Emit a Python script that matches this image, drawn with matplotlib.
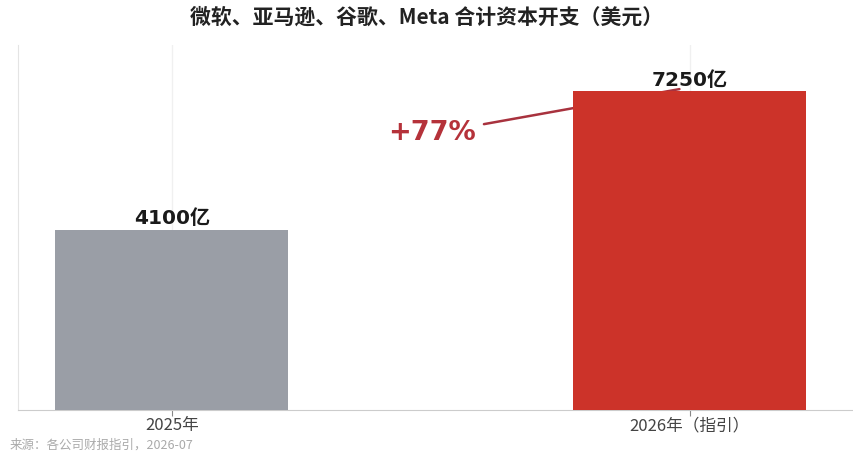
import matplotlib
matplotlib.use("Agg")
import matplotlib.pyplot as plt

plt.rcParams["font.family"] = ["Noto Sans CJK SC", "DejaVu Sans"]

# data
categories = ["2025年", "2026年（指引）"]
capex = [4100, 7250]          # 亿美元
value_labels = ["4100亿", "7250亿"]
growth_label = "+77%"
title = "微软、亚马逊、谷歌、Meta 合计资本开支（美元）"
source = "来源：各公司财报指引，2026-07"

bar_colors = ["#9a9ea6", "#cc3329"]
num_font = ["DejaVu Sans", "Noto Sans CJK SC"]

fig = plt.figure(figsize=(8.54, 4.61), dpi=100)
ax = fig.add_axes([0.021, 0.111, 0.979, 0.791])

x = list(range(len(categories)))
ax.bar(x, capex, width=0.45, color=bar_colors, zorder=3)

for xi, v, lab in zip(x, capex, value_labels):
    ax.text(xi, v + 40, lab, ha="center", va="bottom", fontsize=14.5,
            fontweight="bold", color="#1a1a1a", family=num_font, zorder=4)

ax.annotate(growth_label, xy=(0.98, 7300), xytext=(0.502, 6290),
            ha="center", va="center", fontsize=19.5, fontweight="bold",
            color="#b5323a", family=num_font, zorder=2,
            arrowprops=dict(arrowstyle="-", color="#a8323e", lw=1.8,
                            shrinkA=4, shrinkB=0))

ax.set_xlim(-0.297, 1.317)
ax.set_ylim(0, 8300)
ax.set_xticks(x)
ax.set_xticklabels(categories, fontsize=12, color="#444444")
ax.set_yticks([])
ax.tick_params(axis="x", length=4, color="#888888", pad=1.5)

ax.grid(axis="x", color="#f0f0f0", lw=1, zorder=0)
for side in ["top", "right"]:
    ax.spines[side].set_visible(False)
ax.spines["left"].set_color("#e4e4e4")
ax.spines["bottom"].set_color("#cccccc")

fig.text(0.5, 0.962, title, ha="center", va="center", fontsize=15,
         fontweight="bold", color="#222222")
fig.text(0.011, 0.034, source, ha="left", va="center", fontsize=9,
         color="#aaaaaa")

fig.savefig("out.png", dpi=100)
